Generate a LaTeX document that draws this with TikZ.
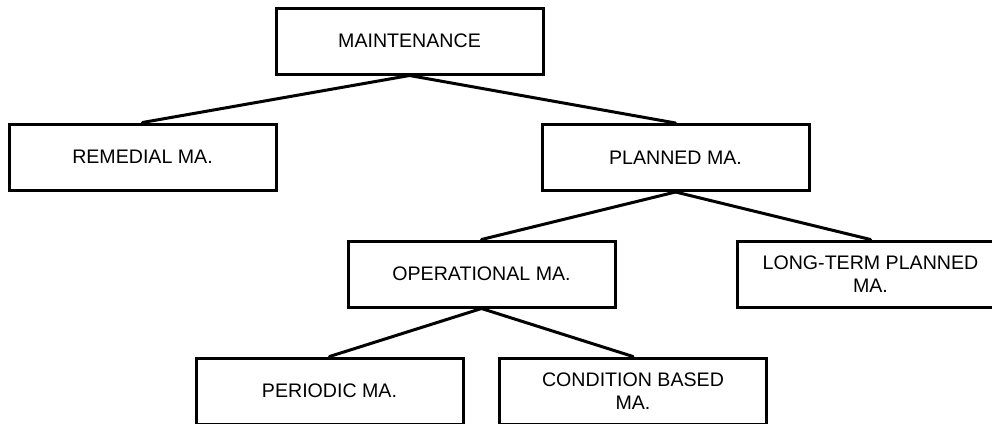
\documentclass[tikz,border=0pt]{standalone}
\usepackage{fontspec}
\setmainfont{Liberation Sans}
\begin{document}
\begin{tikzpicture}[x=1pt,y=-1pt,
  box/.style={draw=black, line width=3pt, fill=white, minimum width=267pt,
    minimum height=66pt, inner sep=2pt, align=center,
    font=\fontsize{19.6}{23}\selectfont},
  link/.style={line width=3pt, line cap=round}]
\useasboundingbox (0,0) rectangle (992,423);
\clip (0,0) rectangle (992,423);
% tree of maintenance types
\node[box] (maint)     at (409.5,41)  {MAINTENANCE};
\node[box] (remedial)  at (142.5,157) {REMEDIAL MA.};
\node[box] (planned)   at (675.5,157.5) {PLANNED MA.};
\node[box] (oper)      at (481.5,274) {OPERATIONAL MA.};
\node[box] (longterm)  at (870.5,274) {LONG-TERM PLANNED\\MA.};
\node[box] (periodic)  at (329.5,391) {PERIODIC MA.};
\node[box] (condition) at (633,391)   {CONDITION BASED\\MA.};
% connectors from each parent to its children
\draw[link] (maint.south) -- (remedial.north);
\draw[link] (maint.south) -- (planned.north);
\draw[link] (planned.south) -- (oper.north);
\draw[link] (planned.south) -- (longterm.north);
\draw[link] (oper.south) -- (periodic.north);
\draw[link] (oper.south) -- (condition.north);
\end{tikzpicture}
\end{document}
